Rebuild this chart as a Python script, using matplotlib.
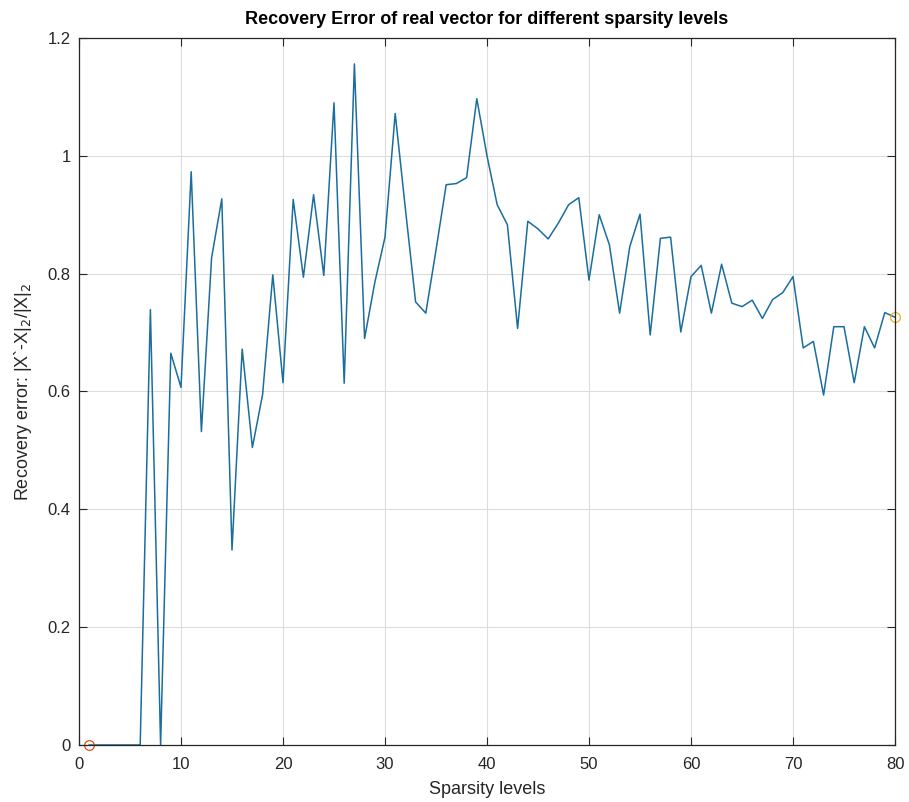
import numpy as np
import matplotlib
matplotlib.use("Agg")
import matplotlib.pyplot as plt

plt.rcParams['font.family'] = ['Liberation Sans', 'DejaVu Sans']

# sparsity levels 1..80 and relative recovery error at each level
sparsity = np.arange(1, 81)
rec_err = [
    0.0, 0.0, 0.0, 0.0, 0.0, 0.0, 0.739, 0.0, 0.665, 0.607,
    0.973, 0.532, 0.827, 0.927, 0.331, 0.672, 0.505, 0.595, 0.798, 0.615,
    0.926, 0.794, 0.934, 0.797, 1.090, 0.614, 1.156, 0.690, 0.785, 0.862,
    1.072, 0.910, 0.752, 0.733, 0.840, 0.951, 0.953, 0.963, 1.097, 1.000,
    0.917, 0.883, 0.707, 0.889, 0.876, 0.859, 0.886, 0.917, 0.929, 0.789,
    0.900, 0.849, 0.733, 0.846, 0.901, 0.696, 0.860, 0.862, 0.701, 0.795,
    0.814, 0.733, 0.816, 0.750, 0.744, 0.755, 0.724, 0.756, 0.768, 0.795,
    0.674, 0.685, 0.594, 0.710, 0.710, 0.615, 0.710, 0.674, 0.734, 0.726,
]

fig = plt.figure(figsize=(9.09, 8.02), dpi=100)
ax = fig.add_axes([0.0869, 0.0711, 0.8977, 0.8815])

ax.plot(sparsity, rec_err, color='#1a6d9e', lw=1.1)
ax.plot(sparsity[0], rec_err[0], 'o', mfc='none', mec='#D95319', ms=7, mew=0.9, clip_on=False)
ax.plot(sparsity[-1], rec_err[-1], 'o', mfc='none', mec='#EDB120', ms=7, mew=0.9, clip_on=False)

ax.set_xlim(0, 80)
ax.set_ylim(0, 1.2)
ax.set_xticks(np.arange(0, 81, 10))
ax.set_yticks([0, 0.2, 0.4, 0.6, 0.8, 1.0, 1.2])
ax.set_yticklabels(['0', '0.2', '0.4', '0.6', '0.8', '1', '1.2'])
ax.grid(True, color='#dcdcdc', lw=0.8)
ax.set_axisbelow(True)
ax.tick_params(direction='in', top=True, right=True, length=6, labelsize=12,
               colors='#262626', pad=6)
ax.tick_params(axis='x', pad=9)
for s in ax.spines.values():
    s.set_color('#262626')
    s.set_linewidth(0.9)

ax.set_title('Recovery Error of real vector for different sparsity levels',
             fontsize=13, fontweight='bold', pad=10)
ax.set_xlabel('Sparsity levels', fontsize=13, color='#262626', labelpad=6)
ax.set_ylabel(r'Recovery error: |X`-X|$_2$/|X|$_2$', fontsize=13, color='#262626', labelpad=10)

fig.savefig('out.png', dpi=100)
